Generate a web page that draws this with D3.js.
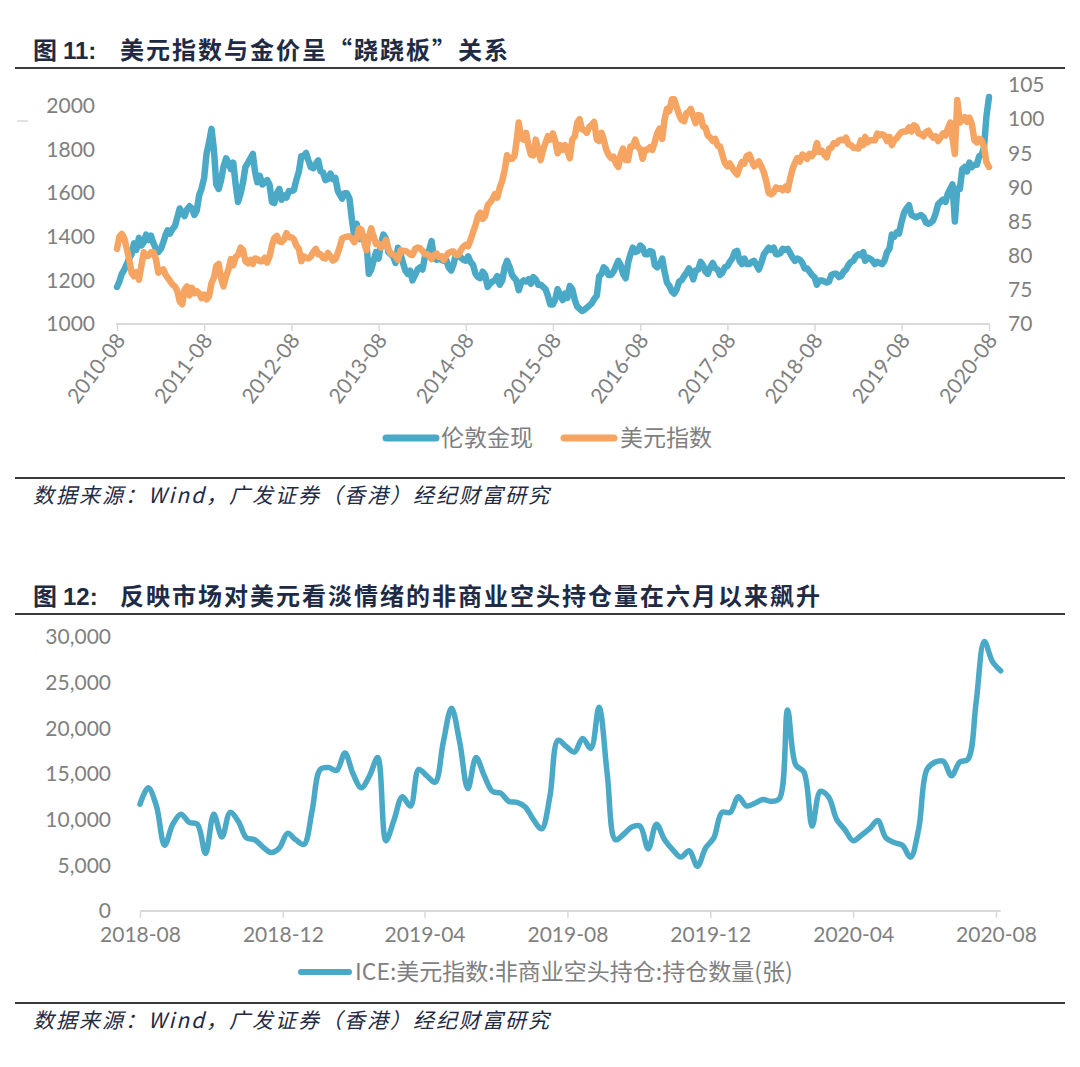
<!DOCTYPE html>
<html><head><meta charset="utf-8">
<script src="https://cdn.jsdelivr.net/npm/d3@7"></script>
<style>
body{margin:0;background:#fff;}
svg{display:block;}
</style></head><body>
<svg id="c" width="1080" height="1067"></svg>
<script>
// ---------- Figure 11 data (three readings per month: ~5th, ~15th, ~25th) ----------
const fig1Months = ["2010-08","2010-09","2010-10","2010-11","2010-12","2011-01","2011-02","2011-03","2011-04","2011-05","2011-06","2011-07",
"2011-08","2011-09","2011-10","2011-11","2011-12","2012-01","2012-02","2012-03","2012-04","2012-05","2012-06","2012-07",
"2012-08","2012-09","2012-10","2012-11","2012-12","2013-01","2013-02","2013-03","2013-04","2013-05","2013-06","2013-07",
"2013-08","2013-09","2013-10","2013-11","2013-12","2014-01","2014-02","2014-03","2014-04","2014-05","2014-06","2014-07",
"2014-08","2014-09","2014-10","2014-11","2014-12","2015-01","2015-02","2015-03","2015-04","2015-05","2015-06","2015-07",
"2015-08","2015-09","2015-10","2015-11","2015-12","2016-01","2016-02","2016-03","2016-04","2016-05","2016-06","2016-07",
"2016-08","2016-09","2016-10","2016-11","2016-12","2017-01","2017-02","2017-03","2017-04","2017-05","2017-06","2017-07",
"2017-08","2017-09","2017-10","2017-11","2017-12","2018-01","2018-02","2018-03","2018-04","2018-05","2018-06","2018-07",
"2018-08","2018-09","2018-10","2018-11","2018-12","2019-01","2019-02","2019-03","2019-04","2019-05","2019-06","2019-07",
"2019-08","2019-09","2019-10","2019-11","2019-12","2020-01","2020-02","2020-03","2020-04","2020-05","2020-06","2020-07","2020-08"];
const sampleDays = [5, 15, 25];

const goldLondon = [
1170,1195,1230, 1250,1275,1300, 1320,1370,1340, 1395,1360,1375, 1410,1385,1405,
1370,1345,1330, 1345,1375,1410, 1430,1415,1435, 1450,1490,1530, 1510,1495,1525,
1540,1530,1500, 1520,1590,1620, 1670,1780,1830, 1895,1800,1640, 1620,1660,1720,
1760,1740,1710, 1740,1640,1560, 1600,1650,1720, 1740,1760,1780, 1700,1650,1680,
1640,1650,1660, 1640,1560,1555, 1600,1620,1570, 1590,1580,1610, 1610,1615,1660,
1700,1770,1770, 1785,1750,1720, 1715,1735,1750, 1700,1695,1660, 1665,1690,1665,
1670,1610,1590, 1575,1600,1600, 1575,1480,1400, 1460,1390,1390, 1400,1370,1230,
1250,1290,1330, 1300,1370,1410, 1390,1330,1320, 1310,1280,1350, 1320,1280,1245,
1230,1245,1200, 1225,1250,1260, 1250,1310,1330, 1340,1380,1300, 1295,1300,1295,
1290,1295,1260, 1245,1275,1320, 1320,1305,1295, 1290,1310,1285, 1270,1230,1215,
1210,1240,1225, 1170,1185,1195, 1200,1220,1180, 1200,1260,1290, 1260,1225,1210,
1200,1155,1190, 1200,1195,1205, 1185,1215,1205, 1180,1180,1170, 1160,1130,1090,
1090,1115,1160, 1130,1110,1140, 1120,1175,1160, 1110,1080,1070, 1060,1065,1075,
1085,1095,1115, 1130,1220,1230, 1260,1250,1225, 1225,1240,1265, 1290,1270,1230,
1210,1280,1320, 1350,1330,1335, 1360,1350,1320, 1320,1335,1330, 1270,1260,1270,
1300,1240,1190, 1175,1150,1140, 1160,1195,1200, 1220,1235,1255, 1240,1205,1245,
1250,1285,1270, 1240,1230,1260, 1280,1255,1250, 1225,1235,1260, 1265,1285,1300,
1330,1335,1290, 1275,1300,1275, 1275,1285,1290, 1270,1250,1280, 1320,1335,1350,
1340,1350,1320, 1320,1325,1345, 1340,1345,1325, 1305,1290,1300, 1295,1280,1255,
1255,1240,1225, 1215,1180,1200, 1200,1195,1190, 1195,1225,1230, 1230,1215,1220,
1240,1250,1270, 1285,1290,1310, 1320,1315,1330, 1290,1305,1300, 1290,1275,1285,
1280,1275,1290, 1330,1345,1410, 1400,1420,1415, 1470,1510,1530, 1545,1500,1495,
1490,1495,1500, 1490,1465,1460, 1465,1475,1505, 1550,1560,1570, 1560,1600,1620,
1640,1470,1620, 1620,1710,1720, 1700,1740,1720, 1730,1730,1770, 1775,1810,1950,
2041];

const dollarIndex = [
81.0,82.8,83.2, 82.5,81.0,79.5, 77.5,77.0,77.6, 76.5,78.5,80.5, 80.0,80.0,80.5,
80.5,79.5,77.5, 77.8,78.0,77.2, 76.8,76.3,75.8, 75.5,74.8,73.3, 72.9,75.0,75.5,
74.2,75.3,74.5, 74.8,74.5,73.8, 74.3,73.6,74.0, 76.0,76.8,78.5, 78.8,76.7,75.5,
77.0,78.0,79.5, 78.6,79.8,80.1, 81.2,80.8,79.2, 78.9,79.4,78.8, 79.6,79.5,79.2,
79.2,79.7,79.0, 79.9,81.5,82.6, 82.9,82.1,82.0, 82.4,83.3,82.7, 82.7,82.4,81.5,
81.0,79.2,79.9, 79.7,79.6,79.9, 80.6,81.0,80.2, 80.2,79.7,79.6, 80.4,79.9,79.3,
79.5,80.4,81.5, 82.5,82.7,82.8, 82.8,82.5,82.0, 82.5,84.0,83.8, 82.0,80.8,82.8,
84.0,82.8,81.7, 81.8,81.2,81.6, 82.3,81.0,80.3, 80.2,79.9,79.4, 80.8,80.7,80.7,
80.5,80.2,80.1, 81.0,81.2,81.1, 80.7,80.2,80.2, 80.0,79.5,80.1, 80.3,79.8,79.9,
79.4,80.0,80.4, 80.6,80.6,80.1, 80.1,80.8,81.3, 81.6,81.4,82.3, 83.5,84.5,85.8,
86.3,85.4,85.8, 87.4,87.8,88.3, 89.0,88.5,89.9, 91.0,92.5,94.7, 94.2,94.2,94.6,
96.5,99.5,97.2, 97.0,98.0,96.0, 94.8,94.7,97.0, 95.5,94.0,95.5, 96.5,97.5,97.0,
97.9,96.8,95.0, 96.2,95.5,96.2, 95.3,94.3,97.0, 97.5,99.5,100.0, 98.5,98.4,98.0,
98.9,99.2,99.6, 97.0,96.8,98.0, 97.0,95.6,94.8, 94.3,94.5,93.5, 93.0,94.8,95.7,
94.0,94.0,96.0, 96.0,97.0,96.0, 95.6,94.2,95.5, 95.5,95.9,95.5, 96.7,97.9,98.6,
97.1,100.0,101.5, 101.2,102.9,102.9, 101.7,100.6,99.9, 99.7,100.9,101.1, 101.5,100.4,99.4,
100.6,100.5,98.9, 98.8,97.6,97.3, 96.8,97.1,96.1, 96.0,94.8,93.6, 93.1,93.5,92.9,
92.3,91.9,92.9, 93.7,93.5,94.6, 94.8,93.9,93.1, 93.4,93.8,93.1, 92.2,90.9,89.2,
89.0,89.3,90.0, 89.8,89.9,89.6, 90.1,89.6,91.3, 92.7,93.6,94.3, 93.8,94.8,94.6,
94.2,94.9,94.6, 95.1,96.5,95.2, 95.4,94.8,94.4, 95.7,95.8,96.5, 96.4,96.9,97.0,
96.9,97.3,96.3, 96.2,95.8,95.8, 95.7,96.9,96.2, 97.4,96.6,96.9, 96.9,96.9,97.9,
97.6,97.8,97.6, 96.8,97.4,96.2, 96.9,97.2,97.7, 98.1,98.2,98.2, 98.8,98.2,99.1,
98.9,97.9,97.8, 97.5,98.1,98.3, 97.7,97.3,97.5, 96.8,97.3,97.9, 97.6,98.7,99.5,
97.2,94.9,102.8, 99.5,100.0,100.3, 99.6,100.2,99.3, 96.9,96.6,97.1, 96.9,96.0,93.7,
93.0];

const fig1XTicks = ["2010-08","2011-08","2012-08","2013-08","2014-08","2015-08","2016-08","2017-08","2018-08","2019-08","2020-08"];
const fig1LeftTicks = [1000,1200,1400,1600,1800,2000];
const fig1RightTicks = [70,75,80,85,90,95,100,105];
const fig1Series = ["伦敦金现","美元指数"];

// ---------- Figure 12 data (weekly, from 2018-08-07) ----------
const fig2Start = "2018-08-07";
const iceShorts = [
11700,13500,11500,7200,9500,10600,9700,9500,6300,10600,
8100,10800,9800,8000,7800,7000,6400,6900,8500,7800,
7300,11000,15500,15700,15400,17300,15000,13500,14800,16800,
7700,10000,12500,11500,15500,14800,14100,18500,22200,18500,
13400,16800,14800,13100,12900,12000,11900,11400,10000,9000,
12500,18700,18000,17400,18900,17800,22300,15000,7800,8400,
9200,9300,6800,9500,7800,6700,5900,6600,4900,6900,
8000,10800,10800,12500,11500,11800,12200,12000,12300,22000,
16000,15200,9300,13100,12500,10000,8900,7700,8300,9000,
9900,8000,7500,7200,5900,9000,15500,16300,16400,14800,
16300,16600,22800,29500,27300,26300];
const fig2XTicks = ["2018-08","2018-12","2019-04","2019-08","2019-12","2020-04","2020-08"];
const fig2YTicks = [0,5000,10000,15000,20000,25000,30000];
const fig2Series = "ICE:美元指数:非商业空头持仓:持仓数量(张)";

const sourceText = "数据来源：Wind，广发证券（香港）经纪财富研究";

// ---------- styles ----------
const BLUE = "#4aa9c6", ORANGE = "#f5a462", GREY = "#7f7f7f", AXIS = "#d9d9d9", NAVY = "#1f2a44";
const NUMFONT = "Lato, 'Open Sans', sans-serif";
const CJK = "'Noto Sans CJK SC', 'Noto Sans', sans-serif";

const svg = d3.select("#c");
const parseM = d3.timeParse("%Y-%m");
const parseD = d3.timeParse("%Y-%m-%d");

function title(y, num, rest) {
  const g = svg.append("g").attr("fill", NAVY).attr("font-weight", "bold");
  g.append("text").attr("x", 33).attr("y", y).attr("font-family", CJK).attr("font-size", 24).text("图");
  g.append("text").attr("x", 63).attr("y", y).attr("font-family", "'Liberation Sans', Arial, sans-serif").attr("font-size", 24).text(num + ":");
  g.append("text").attr("x", 120).attr("y", y).attr("font-family", CJK).attr("font-size", 24)
    .attr("letter-spacing", 2).text(rest);
}
function rule(y) {
  svg.append("line").attr("x1", 15).attr("x2", 1065).attr("y1", y).attr("y2", y)
    .attr("stroke", "#3a3a3a").attr("stroke-width", 2);
}
function source(y) {
  svg.append("text").attr("x", 33).attr("y", y).attr("font-family", CJK).attr("font-size", 21)
    .attr("font-style", "italic").attr("letter-spacing", 2).attr("fill", NAVY).text(sourceText);
}

// ================= Figure 11 =================
title(59, "11", "美元指数与金价呈“跷跷板”关系");
rule(68);
svg.append("line").attr("x1", 17).attr("x2", 28).attr("y1", 121).attr("y2", 121).attr("stroke", "#d9d9d9").attr("stroke-width", 1.5);

const d1 = (i) => { const m = parseM(fig1Months[Math.floor(i / 3)]); return new Date(m.getFullYear(), m.getMonth(), sampleDays[i % 3]); };
const x1 = d3.scaleTime().domain([new Date(2010, 7, 5), new Date(2020, 7, 5)]).range([117, 989]);
const yL = d3.scaleLinear().domain([1000, 2000]).range([324, 106]);
const yR = d3.scaleLinear().domain([70, 105]).range([324, 85]);

const xAx1 = svg.append("g").attr("transform", "translate(0,324)")
  .call(d3.axisBottom(x1).tickValues(fig1XTicks.map(t => { const m = parseM(t); return new Date(m.getFullYear(), m.getMonth(), 5); }))
    .tickSize(7).tickSizeOuter(0).tickFormat(d3.timeFormat("%Y-%m")));
xAx1.select(".domain").attr("stroke", AXIS).attr("stroke-width", 2).attr("d", "M116,0H990");
xAx1.selectAll(".tick line").attr("stroke", AXIS).attr("stroke-width", 1.5);
xAx1.selectAll(".tick text").attr("fill", GREY).attr("font-family", NUMFONT).attr("font-size", 21)
  .attr("text-anchor", "end").attr("transform", "translate(3,12) rotate(-53)").attr("dy", "0.35em").attr("y", 0).attr("x", 0);

const yAxL = svg.append("g").attr("transform", "translate(95,0)")
  .call(d3.axisLeft(yL).tickValues(fig1LeftTicks).tickSize(0).tickPadding(0).tickFormat(d3.format("d")));
yAxL.select(".domain").remove();
yAxL.selectAll("text").attr("fill", GREY).attr("font-family", NUMFONT).attr("font-size", 21);

const yAxR = svg.append("g").attr("transform", "translate(1008,0)")
  .call(d3.axisRight(yR).tickValues(fig1RightTicks).tickSize(0).tickPadding(0).tickFormat(d3.format("d")));
yAxR.select(".domain").remove();
yAxR.selectAll("text").attr("fill", GREY).attr("font-family", NUMFONT).attr("font-size", 21);

const goldPts = goldLondon.map((v, i) => [d1(i), v]);
const dxyPts = dollarIndex.map((v, i) => [d1(i), v]);
svg.append("path").datum(goldPts).attr("fill", "none").attr("stroke", BLUE).attr("stroke-width", 6.5)
  .attr("stroke-linejoin", "round").attr("stroke-linecap", "round")
  .attr("d", d3.line().x(d => x1(d[0])).y(d => yL(d[1])));
svg.append("path").datum(dxyPts).attr("fill", "none").attr("stroke", ORANGE).attr("stroke-width", 6.5)
  .attr("stroke-linejoin", "round").attr("stroke-linecap", "round")
  .attr("d", d3.line().x(d => x1(d[0])).y(d => yR(d[1])));

// legend 1
const leg1 = [[386, 436, 441, BLUE], [564, 614, 620, ORANGE]];
fig1Series.forEach((s, i) => {
  const [a, b, t, c] = leg1[i];
  svg.append("line").attr("x1", a).attr("x2", b).attr("y1", 438).attr("y2", 438).attr("stroke", c).attr("stroke-width", 7).attr("stroke-linecap", "round");
  svg.append("text").attr("x", t).attr("y", 446).attr("font-family", CJK).attr("font-size", 23).attr("fill", GREY).text(s);
});
rule(478);
source(503);

// ================= Figure 12 =================
title(605, "12", "反映市场对美元看淡情绪的非商业空头持仓量在六月以来飙升");
rule(614);

const start2 = parseD(fig2Start);
const x2 = d3.scaleTime().domain([start2, d3.timeMonth.offset(start2, 24)]).range([140, 996]);
const y2 = d3.scaleLinear().domain([0, 30000]).range([911, 637]);
const pts2 = iceShorts.map((v, i) => [d3.timeDay.offset(start2, 7 * i), v]);

const xAx2 = svg.append("g").attr("transform", "translate(0,911)")
  .call(d3.axisBottom(x2).tickValues(fig2XTicks.map((t, k) => d3.timeMonth.offset(start2, 4 * k)))
    .tickSize(7).tickSizeOuter(0).tickPadding(9).tickFormat((d, k) => fig2XTicks[k]));
xAx2.select(".domain").attr("stroke", AXIS).attr("stroke-width", 2).attr("d", "M140,0H" + x2(pts2[pts2.length - 1][0]));
xAx2.selectAll(".tick line").attr("stroke", AXIS).attr("stroke-width", 1.5);
xAx2.selectAll(".tick text").attr("fill", GREY).attr("font-family", NUMFONT).attr("font-size", 21);

const yAx2 = svg.append("g").attr("transform", "translate(111,0)")
  .call(d3.axisLeft(y2).tickValues(fig2YTicks).tickSize(0).tickPadding(0).tickFormat(d3.format(",")));
yAx2.select(".domain").remove();
yAx2.selectAll("text").attr("fill", GREY).attr("font-family", NUMFONT).attr("font-size", 21);

svg.append("path").datum(pts2).attr("fill", "none").attr("stroke", BLUE).attr("stroke-width", 5.5)
  .attr("stroke-linejoin", "round").attr("stroke-linecap", "round")
  .attr("d", d3.line().curve(d3.curveCatmullRom).x(d => x2(d[0])).y(d => y2(d[1])));

svg.append("line").attr("x1", 301).attr("x2", 349).attr("y1", 972).attr("y2", 972).attr("stroke", BLUE).attr("stroke-width", 6).attr("stroke-linecap", "round");
svg.append("text").attr("x", 355).attr("y", 980).attr("font-family", CJK).attr("font-size", 23).attr("fill", GREY).text(fig2Series);

rule(1003);
source(1028);
</script>
</body></html>
